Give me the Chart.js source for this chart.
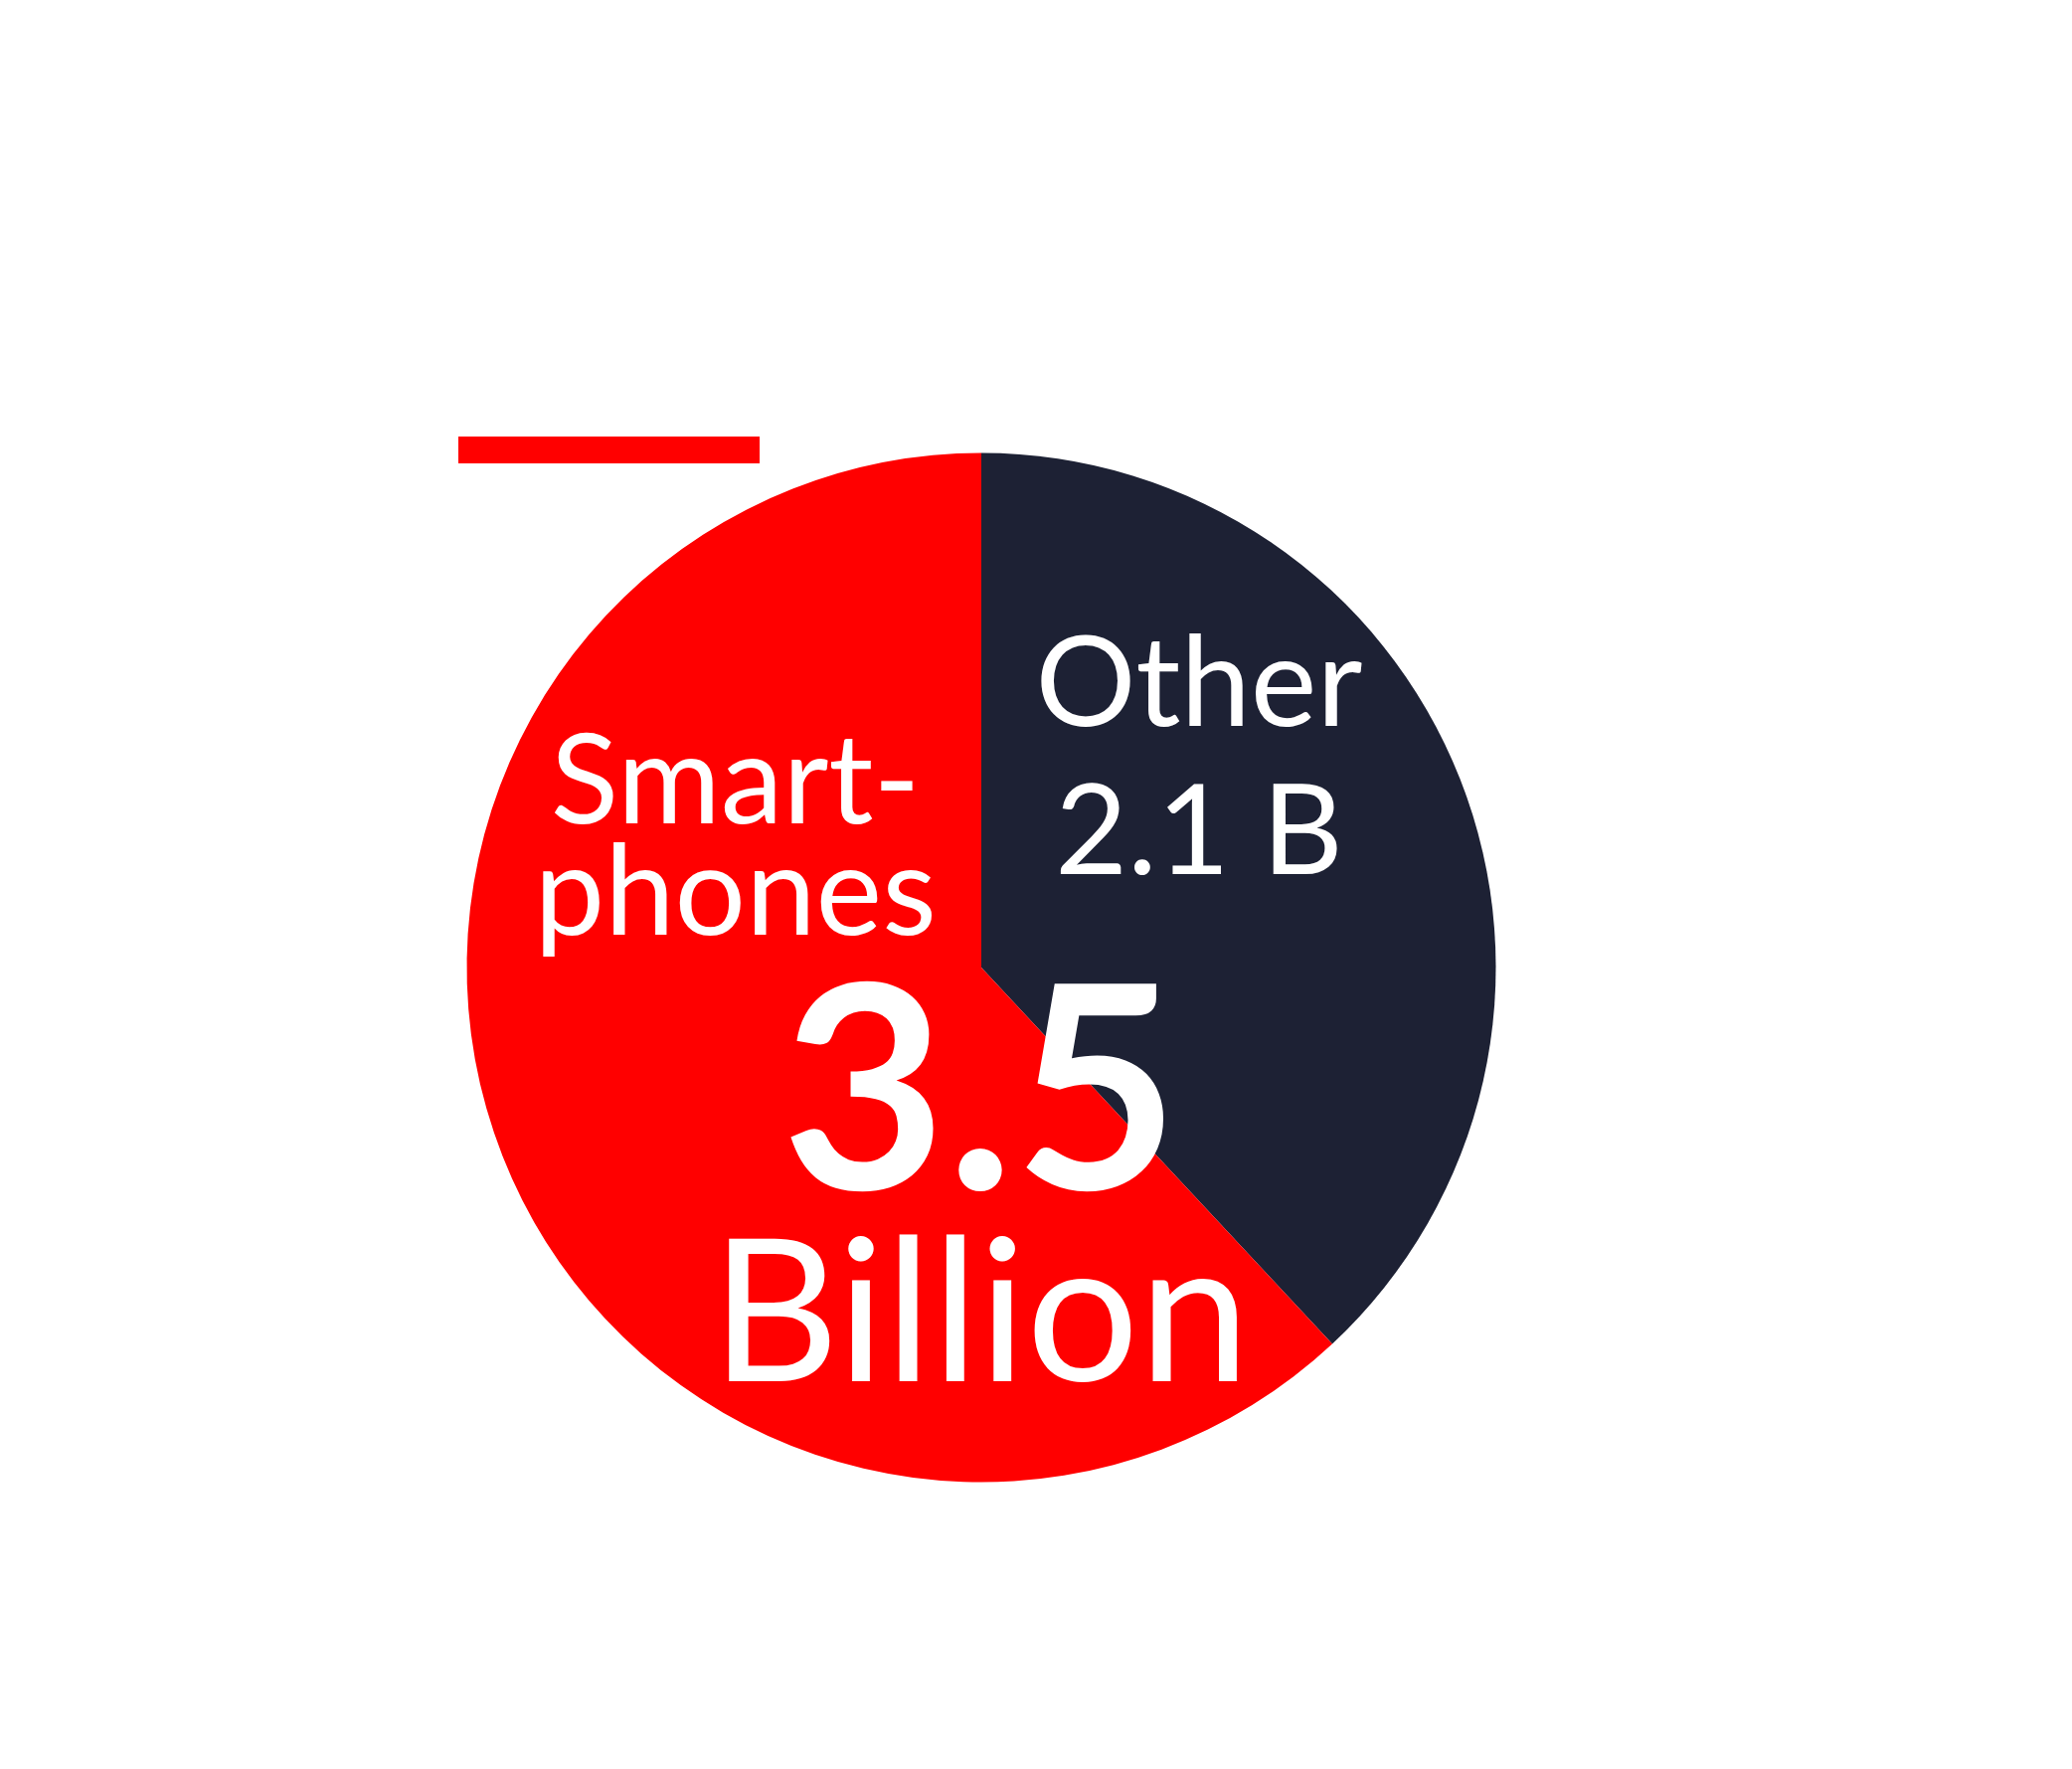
<!DOCTYPE html>
<html>
<head>
<meta charset="utf-8">
<script src="https://cdn.jsdelivr.net/npm/chart.js@4"></script>
<style>
  body { margin: 0; background: #fff; }
  #myChart { display: block; }
</style>
</head>
<body>
<canvas id="myChart" width="2084" height="1779"></canvas>
<script>
  // data (slice sizes, labels as printed)
  const categories = ['Other', 'Smartphones'];
  const values = [2.15, 3.5];
  const valueLabels = ['2.1 B', '3.5'];
  const colors = ['#1d2134', '#ff0000'];

  // label lines drawn inside each slice
  const otherLines = [categories[0], valueLabels[0]];
  const smartLines = ['Smart-', 'phones'];
  const bigNumber = valueLabels[1];
  const bigUnit = 'Billion';

  // slice labels, placed relative to the pie centre and radius
  const sliceText = {
    id: 'sliceText',
    afterDatasetsDraw(chart) {
      const arc = chart.getDatasetMeta(0).data[0];
      const cx = arc.x, cy = arc.y, r = arc.outerRadius;
      const ctx = chart.ctx;
      ctx.save();
      ctx.fillStyle = '#fff';
      ctx.textAlign = 'center';
      ctx.textBaseline = 'alphabetic';

      ctx.font = (0.2438 * r) + 'px Lato';
      ctx.fillText(otherLines[0], cx + 0.423 * r, cy - 0.470 * r);
      ctx.fillText(otherLines[1], cx + 0.423 * r, cy - 0.181 * r);

      ctx.fillText(smartLines[0], cx - 0.478 * r, cy - 0.281 * r);
      ctx.fillText(smartLines[1], cx - 0.478 * r, cy - 0.064 * r);

      ctx.font = 'bold ' + (0.553 * r) + 'px Lato';
      ctx.fillText(bigNumber, cx - 0.002 * r, cy + 0.431 * r);

      ctx.font = (0.386 * r) + 'px Lato';
      ctx.fillText(bigUnit, cx - 0.002 * r, cy + 0.804 * r);
      ctx.restore();
    }
  };

  // red accent bar above the pie
  const accentBar = {
    id: 'accentBar',
    afterDraw(chart) {
      const arc = chart.getDatasetMeta(0).data[0];
      const cx = arc.x, cy = arc.y, r = arc.outerRadius;
      const ctx = chart.ctx;
      ctx.save();
      ctx.fillStyle = colors[1];
      ctx.fillRect(cx - 1.0164 * r, cy - 1.0319 * r, 0.5855 * r, 0.0522 * r);
      ctx.restore();
    }
  };

  const data = {
    labels: categories,
    datasets: [{
      data: values,
      backgroundColor: colors,
      borderWidth: 0
    }]
  };

  const config = {
    type: 'pie',
    data: data,
    options: {
      responsive: false,
      animation: false,
      layout: {
        padding: { left: 469.5, right: 579.5, top: 455.5, bottom: 288.5 }
      },
      plugins: {
        legend: { display: false },
        tooltip: { enabled: false }
      }
    },
    plugins: [sliceText, accentBar]
  };

  const myChart = new Chart(
    document.getElementById('myChart'),
    config
  );
</script>
</body>
</html>
